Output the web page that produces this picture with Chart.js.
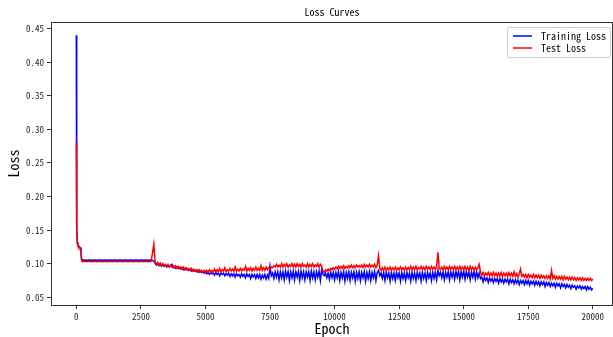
<!DOCTYPE html>
<html>
<head>
<meta charset="utf-8">
<script src="https://cdn.jsdelivr.net/npm/chart.js@4.4.0/dist/chart.umd.min.js"></script>
<style>
  body { margin: 0; background: #fff; }
</style>
</head>
<body>
<canvas id="loss-chart" width="613" height="337"></canvas>
<script>
// epochs (x) and the two loss series
var epochs = [
  0, 10, 20, 40, 60, 100, 150, 180, 200, 230,
  300, 400, 500, 600, 700, 800, 900, 1000, 1100, 1200, 1300, 1400, 1500, 1600,
  1700, 1800, 1900, 2000, 2100, 2200, 2300, 2400, 2500, 2600, 2700, 2800, 2900,
  3000, 3050, 3100, 3150, 3200, 3250, 3300, 3350, 3400, 3450, 3500, 3550, 3600, 3650, 3700, 3750, 3800, 3850, 3900, 3950,
  4000, 4050, 4100, 4150, 4200, 4250, 4300, 4350, 4400, 4450, 4500, 4550, 4600, 4650, 4700, 4750, 4800, 4850, 4900, 4950,
  5000, 5050, 5100, 5150, 5200, 5250, 5300, 5350, 5400, 5450, 5500, 5550, 5600, 5650, 5700, 5750, 5800, 5850, 5900, 5950,
  6000, 6050, 6100, 6150, 6200, 6250, 6300, 6350, 6400, 6450, 6500, 6550, 6600, 6650, 6700, 6750, 6800, 6850, 6900, 6950,
  7000, 7050, 7100, 7150, 7200, 7250, 7300, 7350, 7400, 7450, 7500, 7550, 7600, 7650, 7700, 7750, 7800, 7850, 7900, 7950,
  8000, 8050, 8100, 8150, 8200, 8250, 8300, 8350, 8400, 8450, 8500, 8550, 8600, 8650, 8700, 8750, 8800, 8850, 8900, 8950,
  9000, 9050, 9100, 9150, 9200, 9250, 9300, 9350, 9400, 9450, 9500, 9550, 9600, 9650, 9700, 9750, 9800, 9850, 9900, 9950,
  10000, 10050, 10100, 10150, 10200, 10250, 10300, 10350, 10400, 10450, 10500, 10550, 10600, 10650, 10700, 10750, 10800, 10850, 10900, 10950,
  11000, 11050, 11100, 11150, 11200, 11250, 11300, 11350, 11400, 11450, 11500, 11550, 11600, 11650, 11700, 11750, 11800, 11850, 11900, 11950,
  12000, 12050, 12100, 12150, 12200, 12250, 12300, 12350, 12400, 12450, 12500, 12550, 12600, 12650, 12700, 12750, 12800, 12850, 12900, 12950,
  13000, 13050, 13100, 13150, 13200, 13250, 13300, 13350, 13400, 13450, 13500, 13550, 13600, 13650, 13700, 13750, 13800, 13850, 13900, 13950,
  14000, 14050, 14100, 14150, 14200, 14250, 14300, 14350, 14400, 14450, 14500, 14550, 14600, 14650, 14700, 14750, 14800, 14850, 14900, 14950,
  15000, 15050, 15100, 15150, 15200, 15250, 15300, 15350, 15400, 15450, 15500, 15550, 15600, 15650, 15700, 15750, 15800, 15850, 15900, 15950,
  16000, 16050, 16100, 16150, 16200, 16250, 16300, 16350, 16400, 16450, 16500, 16550, 16600, 16650, 16700, 16750, 16800, 16850, 16900, 16950,
  17000, 17050, 17100, 17150, 17200, 17250, 17300, 17350, 17400, 17450, 17500, 17550, 17600, 17650, 17700, 17750, 17800, 17850, 17900, 17950,
  18000, 18050, 18100, 18150, 18200, 18250, 18300, 18350, 18400, 18450, 18500, 18550, 18600, 18650, 18700, 18750, 18800, 18850, 18900, 18950,
  19000, 19050, 19100, 19150, 19200, 19250, 19300, 19350, 19400, 19450, 19500, 19550, 19600, 19650, 19700, 19750, 19800, 19850, 19900, 19950,
  20000
];

var trainLoss = [
  0.440, 0.200, 0.150, 0.132, 0.128, 0.126, 0.124, 0.118, 0.108, 0.105,
  0.1055, 0.1050, 0.1055, 0.1050, 0.1055, 0.1050, 0.1055, 0.1050, 0.1055, 0.1050, 0.1055, 0.1050, 0.1055, 0.1050,
  0.1055, 0.1050, 0.1055, 0.1050, 0.1055, 0.1050, 0.1055, 0.1050, 0.1055, 0.1050, 0.1055, 0.1050, 0.1055,
  0.104, 0.101, 0.098, 0.100, 0.097, 0.099, 0.096, 0.099, 0.096, 0.098, 0.095, 0.097, 0.095, 0.097, 0.099, 0.094, 0.096, 0.093, 0.095, 0.093,
  0.094, 0.092, 0.094, 0.091, 0.093, 0.091, 0.092, 0.090, 0.092, 0.089, 0.091, 0.089, 0.090, 0.088, 0.090, 0.087, 0.089, 0.087, 0.088, 0.086,
  0.088, 0.085, 0.087, 0.084, 0.087, 0.085, 0.086, 0.083, 0.087, 0.084, 0.086, 0.082, 0.086, 0.084, 0.086, 0.082, 0.085, 0.083, 0.086, 0.081,
  0.085, 0.082, 0.085, 0.080, 0.085, 0.082, 0.084, 0.080, 0.085, 0.081, 0.084, 0.079, 0.085, 0.081, 0.084, 0.078, 0.084, 0.080, 0.084, 0.078,
  0.084, 0.079, 0.084, 0.077, 0.083, 0.079, 0.084, 0.077, 0.083, 0.078, 0.096, 0.082, 0.086, 0.078, 0.088, 0.080, 0.088, 0.076, 0.088, 0.079,
  0.088, 0.076, 0.089, 0.080, 0.088, 0.075, 0.088, 0.079, 0.089, 0.076, 0.088, 0.080, 0.088, 0.075, 0.089, 0.079, 0.088, 0.076, 0.088, 0.080,
  0.088, 0.075, 0.089, 0.079, 0.088, 0.076, 0.088, 0.080, 0.089, 0.075, 0.092, 0.084, 0.082, 0.086, 0.079, 0.086, 0.077, 0.087, 0.079, 0.087,
  0.076, 0.087, 0.079, 0.088, 0.075, 0.087, 0.079, 0.088, 0.074, 0.087, 0.078, 0.088, 0.075, 0.087, 0.079, 0.088, 0.074, 0.087, 0.078, 0.088,
  0.075, 0.087, 0.079, 0.088, 0.074, 0.087, 0.078, 0.088, 0.075, 0.087, 0.079, 0.088, 0.075, 0.087, 0.090, 0.082, 0.086, 0.078, 0.087, 0.075,
  0.087, 0.079, 0.086, 0.074, 0.087, 0.078, 0.086, 0.075, 0.087, 0.079, 0.086, 0.074, 0.087, 0.078, 0.086, 0.075, 0.087, 0.079, 0.086, 0.074,
  0.087, 0.078, 0.086, 0.075, 0.087, 0.079, 0.086, 0.074, 0.087, 0.078, 0.086, 0.075, 0.087, 0.079, 0.086, 0.075, 0.087, 0.078, 0.087, 0.076,
  0.090, 0.082, 0.087, 0.079, 0.088, 0.076, 0.087, 0.080, 0.088, 0.076, 0.088, 0.080, 0.088, 0.077, 0.088, 0.080, 0.089, 0.076, 0.088, 0.080,
  0.089, 0.077, 0.088, 0.080, 0.088, 0.076, 0.088, 0.080, 0.088, 0.077, 0.088, 0.079, 0.086, 0.078, 0.080, 0.073, 0.080, 0.075, 0.079, 0.072,
  0.079, 0.074, 0.078, 0.072, 0.078, 0.074, 0.078, 0.071, 0.078, 0.073, 0.077, 0.071, 0.077, 0.073, 0.077, 0.070, 0.077, 0.072, 0.076, 0.070,
  0.076, 0.071, 0.076, 0.069, 0.075, 0.071, 0.075, 0.069, 0.075, 0.070, 0.075, 0.068, 0.074, 0.070, 0.074, 0.068, 0.074, 0.069, 0.073, 0.067,
  0.073, 0.069, 0.073, 0.066, 0.072, 0.068, 0.072, 0.066, 0.071, 0.067, 0.071, 0.065, 0.071, 0.067, 0.070, 0.064, 0.070, 0.066, 0.069, 0.064,
  0.069, 0.065, 0.068, 0.063, 0.068, 0.065, 0.067, 0.062, 0.067, 0.064, 0.067, 0.062, 0.066, 0.063, 0.066, 0.061, 0.066, 0.062, 0.065, 0.061,
  0.063
];

var testLoss = [
  0.280, 0.190, 0.150, 0.130, 0.127, 0.125, 0.123, 0.117, 0.106, 0.103,
  0.1035, 0.1030, 0.1035, 0.1030, 0.1035, 0.1030, 0.1035, 0.1030, 0.1035, 0.1030, 0.1035, 0.1030, 0.1035, 0.1030,
  0.1035, 0.1030, 0.1035, 0.1030, 0.1035, 0.1030, 0.1035, 0.1030, 0.1035, 0.1030, 0.1035, 0.1030, 0.1035,
  0.129, 0.103, 0.099, 0.102, 0.098, 0.101, 0.097, 0.100, 0.097, 0.099, 0.096, 0.099, 0.095, 0.098, 0.095, 0.097, 0.094, 0.097, 0.093, 0.096,
  0.093, 0.095, 0.092, 0.095, 0.091, 0.094, 0.091, 0.093, 0.090, 0.093, 0.089, 0.092, 0.089, 0.091, 0.088, 0.091, 0.088, 0.090, 0.087, 0.090,
  0.087, 0.090, 0.087, 0.091, 0.088, 0.090, 0.087, 0.092, 0.088, 0.091, 0.088, 0.093, 0.088, 0.091, 0.089, 0.094, 0.088, 0.091, 0.089, 0.093,
  0.089, 0.092, 0.089, 0.095, 0.089, 0.092, 0.089, 0.093, 0.089, 0.092, 0.090, 0.096, 0.089, 0.093, 0.090, 0.094, 0.089, 0.093, 0.090, 0.095,
  0.090, 0.093, 0.090, 0.097, 0.090, 0.094, 0.090, 0.095, 0.091, 0.094, 0.091, 0.095, 0.094, 0.097, 0.095, 0.099, 0.095, 0.098, 0.095, 0.100,
  0.095, 0.099, 0.096, 0.100, 0.095, 0.098, 0.096, 0.100, 0.095, 0.099, 0.095, 0.100, 0.096, 0.099, 0.095, 0.100, 0.096, 0.098, 0.095, 0.100,
  0.095, 0.099, 0.096, 0.100, 0.095, 0.098, 0.096, 0.100, 0.095, 0.099, 0.096, 0.089, 0.087, 0.091, 0.089, 0.092, 0.090, 0.093, 0.091, 0.094,
  0.092, 0.095, 0.092, 0.096, 0.093, 0.096, 0.093, 0.097, 0.093, 0.096, 0.094, 0.097, 0.094, 0.098, 0.094, 0.097, 0.094, 0.098, 0.095, 0.097,
  0.095, 0.098, 0.094, 0.099, 0.095, 0.098, 0.095, 0.099, 0.095, 0.098, 0.095, 0.099, 0.094, 0.098, 0.112, 0.093, 0.090, 0.094, 0.090, 0.095,
  0.090, 0.094, 0.091, 0.095, 0.090, 0.094, 0.091, 0.095, 0.090, 0.094, 0.091, 0.095, 0.091, 0.094, 0.090, 0.095, 0.091, 0.094, 0.091, 0.096,
  0.091, 0.095, 0.091, 0.096, 0.091, 0.094, 0.092, 0.096, 0.091, 0.095, 0.091, 0.096, 0.092, 0.095, 0.091, 0.096, 0.092, 0.095, 0.091, 0.096,
  0.117, 0.093, 0.091, 0.095, 0.091, 0.096, 0.091, 0.095, 0.091, 0.096, 0.092, 0.095, 0.091, 0.096, 0.091, 0.095, 0.091, 0.096, 0.091, 0.095,
  0.091, 0.096, 0.091, 0.095, 0.090, 0.096, 0.091, 0.095, 0.090, 0.095, 0.091, 0.094, 0.099, 0.087, 0.083, 0.087, 0.082, 0.086, 0.083, 0.087,
  0.082, 0.086, 0.082, 0.087, 0.082, 0.086, 0.081, 0.086, 0.082, 0.087, 0.081, 0.086, 0.082, 0.086, 0.081, 0.087, 0.082, 0.086, 0.081, 0.088,
  0.081, 0.085, 0.080, 0.085, 0.092, 0.081, 0.084, 0.080, 0.084, 0.079, 0.084, 0.080, 0.083, 0.079, 0.084, 0.079, 0.083, 0.079, 0.083, 0.078,
  0.083, 0.079, 0.082, 0.078, 0.082, 0.078, 0.082, 0.077, 0.090, 0.078, 0.082, 0.077, 0.081, 0.077, 0.081, 0.077, 0.081, 0.076, 0.081, 0.077,
  0.080, 0.076, 0.080, 0.076, 0.080, 0.076, 0.079, 0.075, 0.079, 0.076, 0.079, 0.075, 0.079, 0.075, 0.078, 0.075, 0.078, 0.075, 0.078, 0.075,
  0.077
];

var seriesNames = ["Training Loss", "Test Loss"];
var xTicks = [0, 2500, 5000, 7500, 10000, 12500, 15000, 17500, 20000];
var yTicks = [0.05, 0.10, 0.15, 0.20, 0.25, 0.30, 0.35, 0.40, 0.45];

var FONT = '"Noto Sans Mono CJK SC", "DejaVu Sans Mono", monospace';

function toPoints(values) {
  return epochs.map(function (e, i) { return { x: e, y: values[i] }; });
}

// top/right frame like matplotlib axes
var framePlugin = {
  id: 'frame',
  afterDatasetsDraw: function (chart) {
    var a = chart.chartArea, ctx = chart.ctx;
    ctx.save();
    ctx.strokeStyle = '#333';
    ctx.lineWidth = 1;
    ctx.beginPath();
    ctx.moveTo(a.left, a.top + 0.5);
    ctx.lineTo(a.right, a.top + 0.5);
    ctx.moveTo(a.right - 0.5, a.top);
    ctx.lineTo(a.right - 0.5, a.bottom);
    ctx.stroke();
    ctx.restore();
  }
};

// boxed legend in the upper right corner of the plot
var boxLegend = {
  id: 'boxLegend',
  afterDraw: function (chart) {
    var a = chart.chartArea, ctx = chart.ctx;
    var sets = chart.data.datasets;
    ctx.save();
    ctx.font = '10px ' + FONT;
    var tw = 0;
    sets.forEach(function (d) { tw = Math.max(tw, ctx.measureText(d.label).width); });
    var w = 6 + 19 + 9 + tw + 4;
    var h = 30;
    var x = a.right - 3 - w, y = a.top + 5;
    ctx.fillStyle = 'rgba(255,255,255,0.85)';
    ctx.strokeStyle = '#cccccc';
    ctx.lineWidth = 1;
    ctx.beginPath();
    ctx.roundRect(x + 0.5, y + 0.5, w, h, 2);
    ctx.fill();
    ctx.stroke();
    sets.forEach(function (d, i) {
      var ly = y + 9 + i * 12;
      ctx.strokeStyle = d.borderColor;
      ctx.lineWidth = 1.5;
      ctx.beginPath();
      ctx.moveTo(x + 6, ly);
      ctx.lineTo(x + 25, ly);
      ctx.stroke();
      ctx.fillStyle = '#000';
      ctx.textBaseline = 'middle';
      ctx.fillText(d.label, x + 34, ly);
    });
    ctx.restore();
  }
};

new Chart(document.getElementById("loss-chart"), {
  type: 'line',
  data: {
    datasets: [{
        label: seriesNames[0],
        data: toPoints(trainLoss),
        borderColor: "#0000ff",
        borderWidth: 1.5,
        fill: false,
        order: 1
      }, {
        label: seriesNames[1],
        data: toPoints(testLoss),
        borderColor: "#ff0000",
        borderWidth: 1.5,
        fill: false,
        order: 0
      }
    ]
  },
  options: {
    responsive: false,
    animation: false,
    layout: { padding: 0 },
    elements: { point: { radius: 0 }, line: { tension: 0 } },
    plugins: {
      legend: { display: false },
      tooltip: { enabled: false },
      title: {
        display: true,
        fullSize: false,
        text: 'Loss Curves',
        color: '#000',
        font: { family: FONT, size: 10, weight: 'normal' },
        padding: { top: 6, bottom: 4 }
      }
    },
    scales: {
      x: {
        type: 'linear',
        min: -980,
        max: 20780,
        afterFit: function (s) { s.height = 32; },
        afterBuildTicks: function (s) { s.ticks = xTicks.map(function (v) { return { value: v }; }); },
        ticks: {
          autoSkip: false,
          maxRotation: 0,
          padding: 2,
          color: '#222',
          font: { family: FONT, size: 9 },
          callback: function (v) { return String(v); }
        },
        grid: { drawOnChartArea: false, tickLength: 4, color: '#333' },
        border: { color: '#333' },
        title: {
          display: true,
          text: 'Epoch',
          color: '#000',
          font: { family: FONT, size: 14 },
          padding: 0
        }
      },
      y: {
        min: 0.0385,
        max: 0.4597,
        afterFit: function (s) { s.width = 51; },
        afterBuildTicks: function (s) { s.ticks = yTicks.map(function (v) { return { value: v }; }); },
        ticks: {
          padding: 3,
          color: '#222',
          font: { family: FONT, size: 9 },
          callback: function (v) { return v.toFixed(2); }
        },
        grid: { drawOnChartArea: false, tickLength: 4, color: '#333' },
        border: { color: '#333' },
        title: {
          display: true,
          text: 'Loss',
          color: '#000',
          font: { family: FONT, size: 14 },
          padding: { top: 5, bottom: 0 }
        }
      }
    }
  },
  plugins: [framePlugin, boxLegend]
});
</script>
</body>
</html>
